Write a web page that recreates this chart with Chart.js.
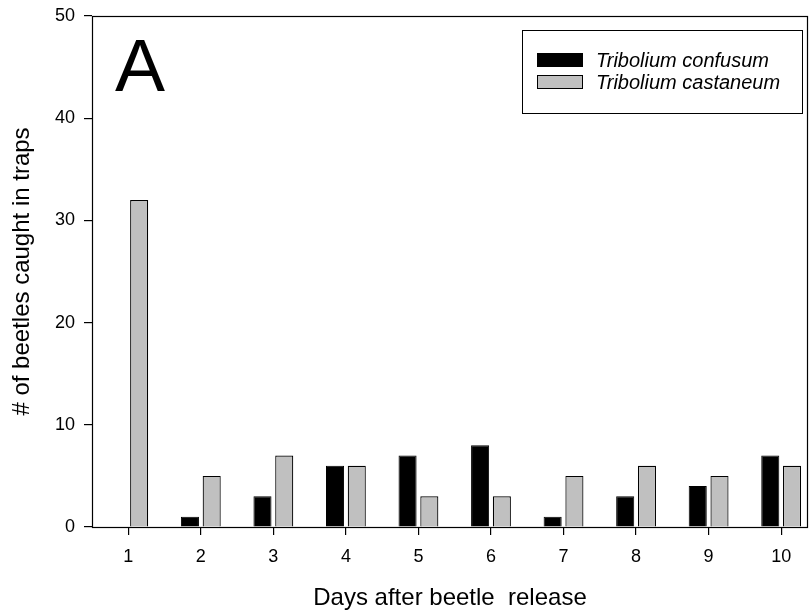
<!DOCTYPE html>
<html>
<head>
<meta charset="utf-8">
<script src="https://cdn.jsdelivr.net/npm/chart.js@4/dist/chart.umd.min.js"></script>
<style>
  html, body { margin: 0; padding: 0; background: #fff; }
  #wrap { width: 809px; height: 614px; }
</style>
</head>
<body>
<div id="wrap"><canvas id="bar-chart" width="809" height="614"></canvas></div>
<script>
// dias após a soltura dos besouros
const dias = [1, 2, 3, 4, 5, 6, 7, 8, 9, 10];
const confusum = [0, 1, 3, 6, 7, 8, 1, 3, 4, 7];
const castaneum = [32, 5, 7, 6, 3, 3, 5, 6, 5, 6];
const ticksY = [0, 10, 20, 30, 40, 50];

const fonte = '"Liberation Sans", Arial, sans-serif';

// caixa em volta da area do grafico, letra A e legenda
const extras = {
    id: 'extras',
    afterDraw(chart) {
        const c = chart.ctx;
        const a = chart.chartArea;
        c.save();
        c.strokeStyle = '#000';
        c.lineWidth = 1.2;
        c.strokeRect(a.left + 0.5, a.top + 0.5, a.right - a.left - 1, a.bottom - a.top);

        c.fillStyle = '#000';
        c.font = '75px ' + fonte;
        c.textBaseline = 'alphabetic';
        c.fillText('A', 115, 91);

        // legenda
        c.lineWidth = 1;
        c.strokeRect(522.5, 30.5, 280, 83);
        chart.data.datasets.forEach((ds, i) => {
            const y = 60 + i * 22;
            c.fillStyle = ds.backgroundColor;
            c.fillRect(537, y - 7, 46, 14);
            c.strokeRect(537.5, y - 6.5, 45, 13);
            c.fillStyle = '#000';
            c.font = 'italic 20px ' + fonte;
            c.textBaseline = 'middle';
            c.fillText(ds.label, 596, y + 1);
        });
        c.restore();
    }
};

const ctx = document.getElementById('bar-chart');
const chart = new Chart(ctx, {
    type: 'bar',
    data: {
        datasets: [{
            label: 'Tribolium confusum',
            data: dias.map((d, i) => ({ x: d, y: confusum[i] })),
            backgroundColor: '#000000',
            borderColor: '#000000',
            borderWidth: 1
        }, {
            label: 'Tribolium castaneum',
            data: dias.map((d, i) => ({ x: d, y: castaneum[i] })),
            backgroundColor: '#c0c0c0',
            borderColor: '#000000',
            borderWidth: 1.2
        }]
    },
    options: {
        responsive: false,
        animation: false,
        categoryPercentage: 0.6,
        barPercentage: 0.83,
        layout: { padding: { top: 16, right: 1, left: 0, bottom: 0 } },
        plugins: {
            legend: { display: false },
            tooltip: { enabled: false }
        },
        scales: {
            x: {
                type: 'linear',
                offset: false,
                min: 0.5,
                max: 10.37,
                afterBuildTicks: s => { s.ticks = dias.map(v => ({ value: v })); },
                afterFit: s => { s.height = 87; },
                grid: { display: true, offset: false, drawOnChartArea: false, drawTicks: true, tickLength: 8, color: '#000', lineWidth: 1.2 },
                border: { display: false },
                ticks: { color: '#000', font: { family: fonte, size: 18 }, padding: 11, maxRotation: 0 },
                title: { display: true, text: 'Days after beetle  release', color: '#000', font: { family: fonte, size: 24 }, padding: { top: 14, bottom: 1 } }
            },
            y: {
                min: 0,
                max: 50,
                afterBuildTicks: s => { s.ticks = ticksY.map(v => ({ value: v })); },
                afterFit: s => { s.width = 92; s.paddingTop = 0; },
                grid: { display: true, drawOnChartArea: false, drawTicks: true, tickLength: 8, color: '#000', lineWidth: 1.2 },
                border: { display: false },
                ticks: { color: '#000', font: { family: fonte, size: 18 }, padding: 9 },
                title: { display: true, text: '# of beetles caught in traps', color: '#000', font: { family: fonte, size: 24 }, padding: { bottom: 0, top: 8 } }
            }
        }
    },
    plugins: [extras]
});
</script>
</body>
</html>
